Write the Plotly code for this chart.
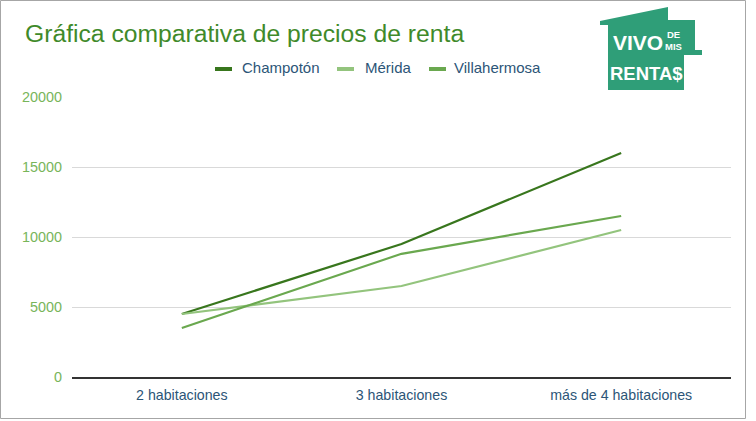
import plotly.graph_objects as go

categories = ["2 habitaciones", "3 habitaciones", "más de 4 habitaciones"]
champoton = [4500, 9500, 16000]
merida = [4500, 6500, 10500]
villahermosa = [3500, 8800, 11500]
series_names = ["Champotón", "Mérida", "Villahermosa"]
series_colors = ["#38761d", "#93c47d", "#6aa84f"]
y_ticks = [0, 5000, 10000, 15000, 20000]

W, H = 756, 421
ML, MR, MT, MB = 72, 25, 97, 44
PW, PH = W - ML - MR, H - MT - MB
FONT = "Liberation Sans, Arial, sans-serif"


def px(x):
    return (x - ML) / PW


def py(y):
    return (H - MB - y) / PH


fig = go.Figure()
for name, vals, col in zip(series_names, [champoton, merida, villahermosa], series_colors):
    fig.add_trace(go.Scatter(x=categories, y=vals, mode="lines", name=name,
                             line=dict(color=col, width=2.2), showlegend=False))

shapes = []
annotations = []

# Border
shapes.append(dict(type="rect", xref="paper", yref="paper", x0=px(0.5), x1=px(745.5),
                   y0=py(418.5), y1=py(0.5), line=dict(color="#a6a6a6", width=1)))

# Title
annotations.append(dict(text="Gráfica comparativa de precios de renta", xref="paper", yref="paper",
                        x=px(23), y=py(34), xanchor="left", yanchor="middle", showarrow=False,
                        font=dict(family=FONT, size=24.7, color="#3f8a2a")))

# Legend (manual)
leg_sym = [215, 337, 429]
leg_txt = [240, 363, 452]
for name, col, sx, tx in zip(series_names, series_colors, leg_sym, leg_txt):
    shapes.append(dict(type="rect", xref="paper", yref="paper", x0=px(sx), x1=px(sx + 17),
                       y0=py(71), y1=py(67), fillcolor=col, line=dict(width=0)))
    annotations.append(dict(text=name, xref="paper", yref="paper", x=px(tx), y=py(68),
                            xanchor="left", yanchor="middle", showarrow=False,
                            font=dict(family=FONT, size=15, color="#2c5577")))

# Logo
logo = [(600, 21), (668, 7), (668, 20), (695, 20), (695, 50), (702, 50), (702, 55),
        (684, 55), (684, 90), (608, 90), (608, 25), (600, 25)]
path = "M " + " L ".join(f"{px(a):.5f},{py(b):.5f}" for a, b in logo) + " Z"
shapes.append(dict(type="path", xref="paper", yref="paper", path=path,
                   fillcolor="#2f9e78", line=dict(width=0)))
annotations.append(dict(text="<b>VIVO</b>", xref="paper", yref="paper", x=px(611), y=py(42),
                        xanchor="left", yanchor="middle", showarrow=False,
                        font=dict(family=FONT, size=21, color="white")))
annotations.append(dict(text="<b>DE</b>", xref="paper", yref="paper", x=px(673), y=py(35),
                        xanchor="center", yanchor="middle", showarrow=False,
                        font=dict(family=FONT, size=9.5, color="white")))
annotations.append(dict(text="<b>MIS</b>", xref="paper", yref="paper", x=px(673), y=py(47),
                        xanchor="center", yanchor="middle", showarrow=False,
                        font=dict(family=FONT, size=9.5, color="white")))
annotations.append(dict(text="<b>RENTA$</b>", xref="paper", yref="paper", x=px(646), y=py(73),
                        xanchor="center", yanchor="middle", showarrow=False,
                        font=dict(family=FONT, size=18.5, color="white")))

fig.update_layout(
    width=W, height=H,
    margin=dict(l=ML, r=MR, t=MT, b=MB, pad=0),
    paper_bgcolor="white", plot_bgcolor="white",
    shapes=shapes, annotations=annotations,
    xaxis=dict(type="category", range=[-0.5, 2.5], showgrid=False, zeroline=False,
               showline=True, linecolor="#333333", linewidth=1.5, ticks="",
               tickfont=dict(family=FONT, size=14.2, color="#2c5577"),
               ticklabelstandoff=4, fixedrange=True),
    yaxis=dict(range=[0, 20000], tickvals=y_ticks, ticktext=[str(v) for v in y_ticks],
               showgrid=True, gridcolor="#d9d9d9", gridwidth=1, zeroline=False,
               showline=False, ticks="", ticklabelstandoff=9,
               tickfont=dict(family=FONT, size=14.4, color="#78b55a"),
               fixedrange=True),
)

fig.write_html("out.html", config={"displayModeBar": False})
